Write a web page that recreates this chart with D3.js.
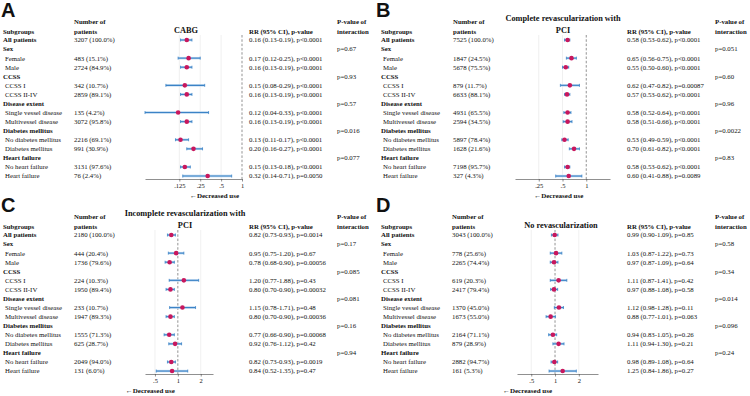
<!DOCTYPE html>
<html>
<head>
<meta charset="utf-8">
<script src="https://cdn.jsdelivr.net/npm/d3@7"></script>
<style>
  body { margin: 0; background: #fff; }
  svg text { font-family: "Liberation Serif", "Times New Roman", serif; fill: #111; }
  .letter { font-family: "Liberation Sans", Arial, sans-serif !important; font-weight: 700; }
  .axis text { font-size: 6.5px; }
  .axis path, .axis line { stroke: #444; stroke-width: 0.6; }
</style>
</head>
<body>
<svg id="chart" width="750" height="396"></svg>
<script>
// row labels shared by all four panels
const rowLabels = ["All patients", "Sex", "Female", "Male", "CCSS", "CCSS I", "CCSS II-IV",
  "Disease extent", "Single vessel disease", "Multivessel disease", "Diabetes mellitus",
  "No diabetes mellitus", "Diabetes mellitus", "Heart failure", "No heart failure", "Heart failure"];
const rowHeader = [1, 1, 0, 0, 1, 0, 0, 1, 0, 0, 1, 0, 0, 1, 0, 0];
// rows that carry an estimate (index into rowLabels)
const estRows = [0, 2, 3, 5, 6, 8, 9, 11, 12, 14, 15];
const groupRows = [1, 4, 7, 10, 13];

// Panel A - CABG
const nA = ["3207 (100.0%)", "483 (15.1%)", "2724 (84.9%)", "342 (10.7%)", "2859 (89.1%)", "135 (4.2%)", "3072 (95.8%)", "2216 (69.1%)", "991 (30.9%)", "3131 (97.6%)", "76 (2.4%)"];
const rrA = [0.16, 0.17, 0.16, 0.15, 0.16, 0.12, 0.16, 0.13, 0.20, 0.15, 0.32];
const loA = [0.13, 0.12, 0.13, 0.08, 0.13, 0.04, 0.13, 0.11, 0.16, 0.13, 0.14];
const hiA = [0.19, 0.25, 0.19, 0.29, 0.19, 0.33, 0.19, 0.17, 0.27, 0.18, 0.71];
const pA = ["p<0.0001", "p<0.0001", "p<0.0001", "p<0.0001", "p<0.0001", "p<0.0001", "p<0.0001", "p<0.0001", "p<0.0001", "p<0.0001", "p=0.0050"];
const pIntA = ["p=0.67", "p=0.93", "p=0.57", "p=0.016", "p=0.077"];
const ticksA = [0.125, 0.25, 0.5, 1];

// Panel B - complete revascularization with PCI
const nB = ["7525 (100.0%)", "1847 (24.5%)", "5678 (75.5%)", "879 (11.7%)", "6633 (88.1%)", "4931 (65.5%)", "2594 (34.5%)", "5897 (78.4%)", "1628 (21.6%)", "7198 (95.7%)", "327 (4.3%)"];
const rrB = [0.58, 0.65, 0.55, 0.62, 0.57, 0.58, 0.58, 0.53, 0.70, 0.58, 0.60];
const loB = [0.53, 0.56, 0.50, 0.47, 0.53, 0.52, 0.51, 0.49, 0.61, 0.53, 0.41];
const hiB = [0.62, 0.75, 0.60, 0.82, 0.62, 0.64, 0.66, 0.59, 0.82, 0.62, 0.88];
const pB = ["p<0.0001", "p<0.0001", "p<0.0001", "p=0.00087", "p<0.0001", "p<0.0001", "p<0.0001", "p<0.0001", "p<0.0001", "p<0.0001", "p=0.0089"];
const pIntB = ["p=0.051", "p=0.60", "p=0.96", "p=0.0022", "p=0.83"];
const ticksB = [0.25, 0.5, 1];

// Panel C - incomplete revascularization with PCI
const nC = ["2180 (100.0%)", "444 (20.4%)", "1736 (79.6%)", "224 (10.3%)", "1950 (89.4%)", "233 (10.7%)", "1947 (89.3%)", "1555 (71.3%)", "625 (28.7%)", "2049 (94.0%)", "131 (6.0%)"];
const rrC = [0.82, 0.95, 0.78, 1.20, 0.80, 1.15, 0.80, 0.77, 0.92, 0.82, 0.84];
const loC = [0.73, 0.75, 0.68, 0.77, 0.70, 0.78, 0.70, 0.66, 0.76, 0.73, 0.52];
const hiC = [0.93, 1.20, 0.90, 1.88, 0.90, 1.71, 0.90, 0.90, 1.12, 0.93, 1.35];
const pC = ["p=0.0014", "p=0.67", "p=0.00056", "p=0.43", "p=0.00032", "p=0.48", "p=0.00036", "p=0.00068", "p=0.42", "p=0.0019", "p=0.47"];
const pIntC = ["p=0.17", "p=0.085", "p=0.081", "p=0.16", "p=0.94"];
const ticksC = [0.5, 1, 2];

// Panel D - no revascularization
const nD = ["3043 (100.0%)", "778 (25.6%)", "2265 (74.4%)", "619 (20.3%)", "2417 (79.4%)", "1370 (45.0%)", "1673 (55.0%)", "2164 (71.1%)", "879 (28.9%)", "2882 (94.7%)", "161 (5.3%)"];
const rrD = [0.99, 1.03, 0.97, 1.11, 0.97, 1.12, 0.88, 0.94, 1.11, 0.98, 1.25];
const loD = [0.90, 0.87, 0.87, 0.87, 0.88, 0.98, 0.77, 0.83, 0.94, 0.89, 0.84];
const hiD = [1.09, 1.22, 1.09, 1.41, 1.08, 1.28, 1.01, 1.05, 1.30, 1.08, 1.86];
const pD = ["p=0.85", "p=0.73", "p=0.64", "p=0.42", "p=0.58", "p=0.11", "p=0.063", "p=0.26", "p=0.21", "p=0.64", "p=0.27"];
const pIntD = ["p=0.58", "p=0.34", "p=0.014", "p=0.096", "p=0.24"];
const ticksD = [0.5, 1, 2];

const panels = [
  { letter: "A", title: ["CABG"], ox: 0, oy: 0, n: nA, rr: rrA, lo: loA, hi: hiA, p: pA, pint: pIntA, ticks: ticksA,
    domain: [0.04, 1], range: [145, 242], cols: [3, 74, 249, 337], titleX: 186 },
  { letter: "B", title: ["Complete revascularization with", "PCI"], ox: 375, oy: 0, n: nB, rr: rrB, lo: loB, hi: hiB, p: pB, pint: pIntB, ticks: ticksB,
    domain: [0.125, 2], range: [140, 235], cols: [6, 78, 252, 340], titleX: 188 },
  { letter: "C", title: ["Incomplete revascularization with", "PCI"], ox: 0, oy: 195, n: nC, rr: rrC, lo: loC, hi: hiC, p: pC, pint: pIntC, ticks: ticksC,
    domain: [0.37, 2.9], range: [145, 213], cols: [3, 74, 249, 337], titleX: 185 },
  { letter: "D", title: ["No revascularization"], ox: 375, oy: 195, n: nD, rr: rrD, lo: loD, hi: hiD, p: pD, pint: pIntD, ticks: ticksD,
    domain: [0.33, 3.5], range: [142, 223], cols: [6, 77, 252, 340], titleX: 186 }
];

const svg = d3.select("#chart");
const fs = 6.8, rowStep = 9.07, row0 = 40, axisY = 179;
const ciColor = "#3b83c6", ptColor = "#c8175d";

function fmt(v) { return v.toFixed(2); }
function tickFmt(v) { return v >= 1 ? String(v) : String(v).replace(/^0/, ""); }

panels.forEach(function(pn) {
  const g = svg.append("g").attr("transform", "translate(" + pn.ox + "," + pn.oy + ")");
  const x = d3.scaleLog().domain(pn.domain).range(pn.range);
  const y = i => row0 + i * rowStep;
  const c = pn.cols;

  g.append("text").attr("class", "letter").attr("x", 1).attr("y", 17)
    .attr("font-size", 20).text(pn.letter);

  // headers
  const hdr = [
    [c[0], 33.5, "Subgroups"], [c[1], 23.5, "Number of"], [c[1], 33.5, "patients"],
    [c[2], 33.5, "RR (95% CI), p-value"], [c[3], 23.5, "P-value of"], [c[3], 33.5, "interaction"]
  ];
  hdr.forEach(h => g.append("text").attr("x", h[0]).attr("y", h[1])
    .attr("font-size", fs).attr("font-weight", 700).text(h[2]));

  const tl = pn.title;
  tl.forEach(function(t, i) {
    const ty = tl.length === 1 ? 32.5 : 21 + i * 11.5;
    g.append("text").attr("x", pn.titleX).attr("y", ty).attr("text-anchor", "middle")
      .attr("font-size", 8.3).attr("font-weight", 700).text(t);
  });

  // row labels
  rowLabels.forEach(function(lab, i) {
    g.append("text").attr("x", rowHeader[i] ? c[0] : c[0] + 2).attr("y", y(i) + 2.4)
      .attr("font-size", fs).attr("font-weight", rowHeader[i] ? 700 : 400).text(lab);
  });

  // grid lines and reference line
  const top = y(0) - 5;
  pn.ticks.filter(t => t !== 1).forEach(t => g.append("line")
    .attr("x1", x(t)).attr("x2", x(t)).attr("y1", top).attr("y2", axisY)
    .attr("stroke", "#e6e6e6").attr("stroke-width", 0.6));
  g.append("line").attr("x1", x(1)).attr("x2", x(1)).attr("y1", top).attr("y2", axisY)
    .attr("stroke", "#666").attr("stroke-width", 0.7).attr("stroke-dasharray", "2.5,1.8");

  // estimates
  estRows.forEach(function(ri, k) {
    const yy = y(ri);
    g.append("text").attr("x", c[1]).attr("y", yy + 2.4).attr("font-size", fs).text(pn.n[k]);
    g.append("text").attr("x", c[2]).attr("y", yy + 2.4).attr("font-size", fs)
      .text(fmt(pn.rr[k]) + " (" + fmt(pn.lo[k]) + "-" + fmt(pn.hi[k]) + "), " + pn.p[k]);
    g.append("line").attr("x1", x(pn.lo[k])).attr("x2", x(pn.hi[k])).attr("y1", yy).attr("y2", yy)
      .attr("stroke", "#b9d4ee").attr("stroke-width", 2.4);
    g.append("line").attr("x1", x(pn.lo[k])).attr("x2", x(pn.hi[k])).attr("y1", yy).attr("y2", yy)
      .attr("stroke", ciColor).attr("stroke-width", 1.1);
    [pn.lo[k], pn.hi[k]].forEach(v => g.append("line").attr("x1", x(v)).attr("x2", x(v))
      .attr("y1", yy - 1.5).attr("y2", yy + 1.5).attr("stroke", ciColor).attr("stroke-width", 0.8));
    g.append("circle").attr("cx", x(pn.rr[k])).attr("cy", yy).attr("r", 2.3).attr("fill", ptColor);
  });

  groupRows.forEach(function(ri, k) {
    g.append("text").attr("x", c[3]).attr("y", y(ri) + 2.4).attr("font-size", fs).text(pn.pint[k]);
  });

  // axis
  const ax = g.append("g").attr("class", "axis").attr("transform", "translate(0," + axisY + ")")
    .call(d3.axisBottom(x).tickValues(pn.ticks).tickFormat(tickFmt).tickSize(2.5).tickPadding(1.5).tickSizeOuter(0));

  g.append("text").attr("x", x(1) - 3).attr("y", 197.5).attr("text-anchor", "end")
    .attr("font-size", 7).attr("font-weight", 700).text("\u2190Decreased use");
});
</script>
</body>
</html>
